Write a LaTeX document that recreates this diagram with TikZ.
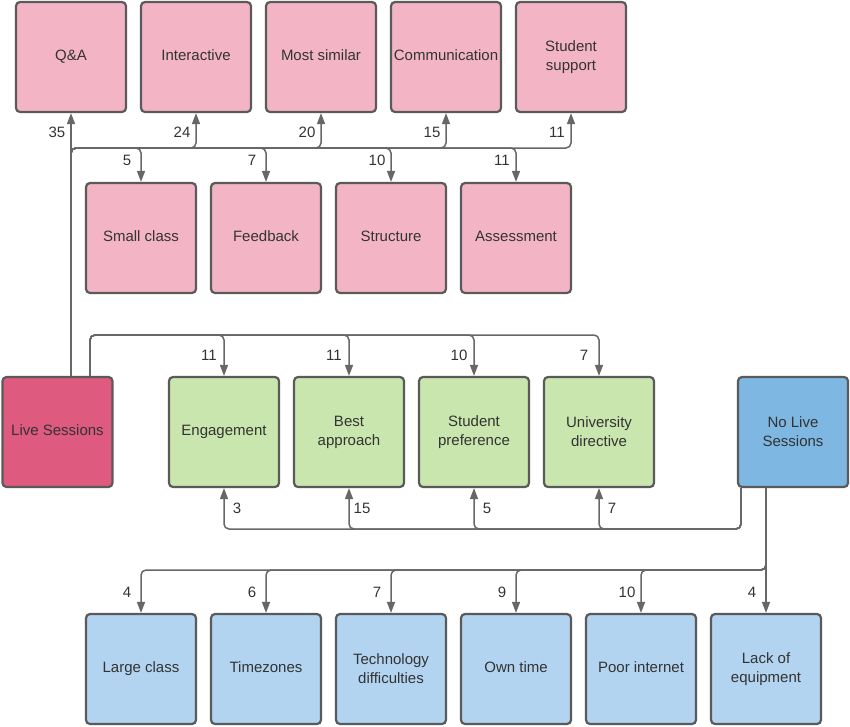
\documentclass[tikz,border=0pt]{standalone}
\usepackage{fontspec}
\setmainfont{Liberation Sans}
\usetikzlibrary{arrows.meta}
\definecolor{pinkfill}{HTML}{F3B5C6}
\definecolor{livefill}{HTML}{DE5A7F}
\definecolor{greenfill}{HTML}{C8E6AE}
\definecolor{nolivefill}{HTML}{7DB7E2}
\definecolor{bluefill}{HTML}{B2D4F0}
\definecolor{bordercol}{HTML}{5A5A5A}
\definecolor{linecol}{HTML}{676767}
\definecolor{txtcol}{HTML}{333333}
\begin{document}
\begin{tikzpicture}[x=1pt,y=-1pt,
  box/.style={draw=bordercol, line width=2.2pt, rounded corners=4pt, minimum width=110pt, minimum height=110pt,
    inner sep=1pt, align=center, text=txtcol, font=\fontsize{15}{19}\selectfont},
  oneline/.style={text height=11pt, text depth=3.5pt},
  pinkbox/.style={box, fill=pinkfill},
  livebox/.style={box, fill=livefill},
  greenbox/.style={box, fill=greenfill},
  nolivebox/.style={box, fill=nolivefill},
  bluebox/.style={box, fill=bluefill},
  conn/.style={draw=linecol, line width=1.5pt, rounded corners=5pt, -{Triangle[width=8pt,length=11pt]}},
  num/.style={text=txtcol, font=\fontsize{15}{18}\selectfont, inner sep=0pt}
]
\useasboundingbox (0,0) rectangle (850,726);
% top row
\node[pinkbox,oneline] (qa) at (71,57) {Q\&A};
\node[pinkbox,oneline] (inter) at (196,57) {Interactive};
\node[pinkbox,oneline] (most) at (321,57) {Most similar};
\node[pinkbox,oneline] (comm) at (446,57) {Communication};
\node[pinkbox] (supp) at (571,57) {Student\\support};
% second row
\node[pinkbox,oneline] (small) at (141,238) {Small class};
\node[pinkbox,oneline] (feed) at (266,238) {Feedback};
\node[pinkbox,oneline] (struc) at (391,238) {Structure};
\node[pinkbox,oneline] (assess) at (516,238) {Assessment};
% middle row
\node[livebox,oneline] (ls) at (57.5,432) {Live Sessions};
\node[greenbox,oneline] (eng) at (224,432) {Engagement};
\node[greenbox] (best) at (349,432) {Best\\approach};
\node[greenbox] (pref) at (474,432) {Student\\preference};
\node[greenbox] (univ) at (599,432) {University\\directive};
\node[nolivebox] (nl) at (793,432) {No Live\\Sessions};
% bottom row
\node[bluebox,oneline] (large) at (141,669) {Large class};
\node[bluebox,oneline] (tz) at (266,669) {Timezones};
\node[bluebox] (tech) at (391,669) {Technology\\difficulties};
\node[bluebox,oneline] (own) at (516,669) {Own time};
\node[bluebox,oneline] (poor) at (641,669) {Poor internet};
\node[bluebox] (lack) at (766,669) {Lack of\\equipment};
% hubs
\coordinate (hubA) at (71,148);
\coordinate (hubB) at (90,335);
\coordinate (hubC) at (741,529);
\coordinate (hubD) at (766,570);
% live sessions -> top rows
\draw[conn] ([xshift=13.5pt]ls.north) -- (qa.south);
\foreach \t in {inter,most,comm,supp,small,feed,struc,assess}
  \draw[conn] ([xshift=13.5pt]ls.north) -- (hubA) -| (\t);
% live sessions -> green
\foreach \t in {eng,best,pref,univ}
  \draw[conn] ([xshift=32.5pt]ls.north) -- (hubB) -| (\t.north);
% no live -> green
\foreach \t in {eng,best,pref,univ}
  \draw[conn] ([xshift=-52pt]nl.south) -- (hubC) -| (\t.south);
% no live -> bottom
\draw[conn] ([xshift=-27pt]nl.south) -- (lack.north);
\foreach \t in {large,tz,tech,own,poor}
  \draw[conn] ([xshift=-27pt]nl.south) -- (hubD) -| (\t.north);
% labels
\node[num] (n1) at (57,132) {35};
\node[num] (n2) at (182,132) {24};
\node[num] (n3) at (307,132) {20};
\node[num] (n4) at (432,132) {15};
\node[num] (n5) at (557,132) {11};
\node[num] (n6) at (127,160) {5};
\node[num] (n7) at (252,160) {7};
\node[num] (n8) at (377,160) {10};
\node[num] (n9) at (502,160) {11};
\node[num] (n10) at (209,355) {11};
\node[num] (n11) at (334,355) {11};
\node[num] (n12) at (459,355) {10};
\node[num] (n13) at (584,355) {7};
\node[num] (n14) at (237,508) {3};
\node[num] (n15) at (362,508) {15};
\node[num] (n16) at (487,508) {5};
\node[num] (n17) at (612,508) {7};
\node[num] (n18) at (127,592) {4};
\node[num] (n19) at (252,592) {6};
\node[num] (n20) at (377,592) {7};
\node[num] (n21) at (502,592) {9};
\node[num] (n22) at (627,592) {10};
\node[num] (n23) at (752,592) {4};
\end{tikzpicture}
\end{document}
